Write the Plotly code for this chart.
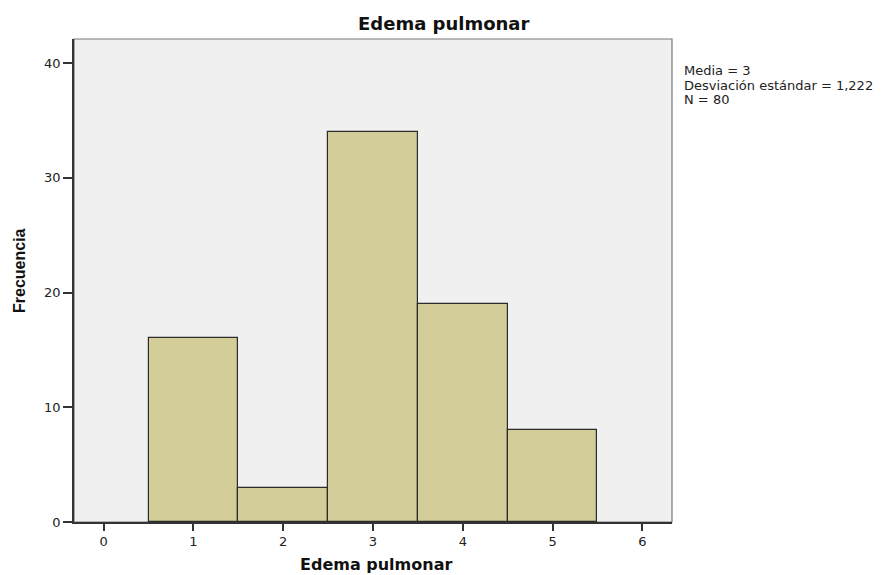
import plotly.graph_objects as go

categories = [1, 2, 3, 4, 5]
frequencies = [16, 3, 34, 19, 8]
x_ticks = [0, 1, 2, 3, 4, 5, 6]
y_ticks = [0, 10, 20, 30, 40]
stats_lines = ["Media = 3", "Desviación estándar = 1,222", "N = 80"]
title_text = "Edema pulmonar"
x_title = "Edema pulmonar"
y_title = "Frecuencia"

W, H = 883, 575
L, R, T, B = 74, 211, 39, 53
PW, PH = W - L - R, H - T - B


def px_x(px):
    return (px - L) / PW


def px_y(py):
    return ((H - B) - py) / PH


fig = go.Figure()
fig.add_trace(go.Bar(
    x=categories, y=frequencies, width=1,
    marker=dict(color="#D3CE99", line=dict(color="#2b2b2b", width=1.2)),
    hoverinfo="x+y",
))

tickfont = dict(family="DejaVu Sans, Arial, sans-serif", size=13, color="#222")

fig.update_layout(
    width=W, height=H,
    margin=dict(l=L, r=R, t=T, b=B, autoexpand=False),
    paper_bgcolor="white", plot_bgcolor="#F0F0F0",
    showlegend=False, bargap=0,
    xaxis=dict(
        range=[-0.33, 6.33], tickmode="array", tickvals=x_ticks,
        ticktext=[str(v) for v in x_ticks],
        ticks="outside", ticklen=7, tickwidth=1.5, tickcolor="#333",
        showgrid=False, zeroline=False,
        showline=True, linecolor="#333", linewidth=1.5,
        tickfont=tickfont, fixedrange=True,
    ),
    yaxis=dict(
        range=[0, 42.1], tickmode="array", tickvals=y_ticks,
        ticktext=[str(v) for v in y_ticks],
        ticks="outside", ticklen=9, tickwidth=1.5, tickcolor="#333",
        showgrid=False, zeroline=False,
        showline=True, linecolor="#333", linewidth=1.5,
        tickfont=tickfont, fixedrange=True,
    ),
    shapes=[dict(type="rect", xref="paper", yref="paper", x0=0, x1=1, y0=0, y1=1,
                 line=dict(color="#777", width=1.2), layer="below")],
)

annotations = []
annotations.append(dict(
    text=title_text, xref="paper", yref="paper",
    x=px_x(444), y=px_y(23),
    xanchor="center", yanchor="middle", showarrow=False,
    font=dict(family="DejaVu Sans, Arial, sans-serif", size=18, color="#111", weight="bold"),
))
annotations.append(dict(
    text=x_title, xref="paper", yref="paper",
    x=px_x(376), y=px_y(564),
    xanchor="center", yanchor="middle", showarrow=False,
    font=dict(family="DejaVu Sans, Arial, sans-serif", size=16, color="#111", weight="bold"),
))
annotations.append(dict(
    text=y_title, xref="paper", yref="paper",
    x=px_x(19), y=px_y(271),
    xanchor="center", yanchor="middle", showarrow=False, textangle=-90,
    font=dict(family="Liberation Sans Narrow, Arial Narrow, Liberation Sans, Arial, sans-serif",
              size=16, color="#111", weight="bold"),
))
for line, yc in zip(stats_lines, [71, 85, 99]):
    annotations.append(dict(
        text=line, xref="paper", yref="paper",
        x=px_x(682), y=px_y(yc),
        xanchor="left", yanchor="middle", showarrow=False,
        font=dict(family="DejaVu Sans, Arial, sans-serif", size=13, color="#222"),
    ))
fig.update_layout(annotations=annotations)

fig.write_html(
    "out.html",
    config={"displayModeBar": False},
    post_script="document.body.style.margin='0px';document.body.style.overflow='hidden';",
)
